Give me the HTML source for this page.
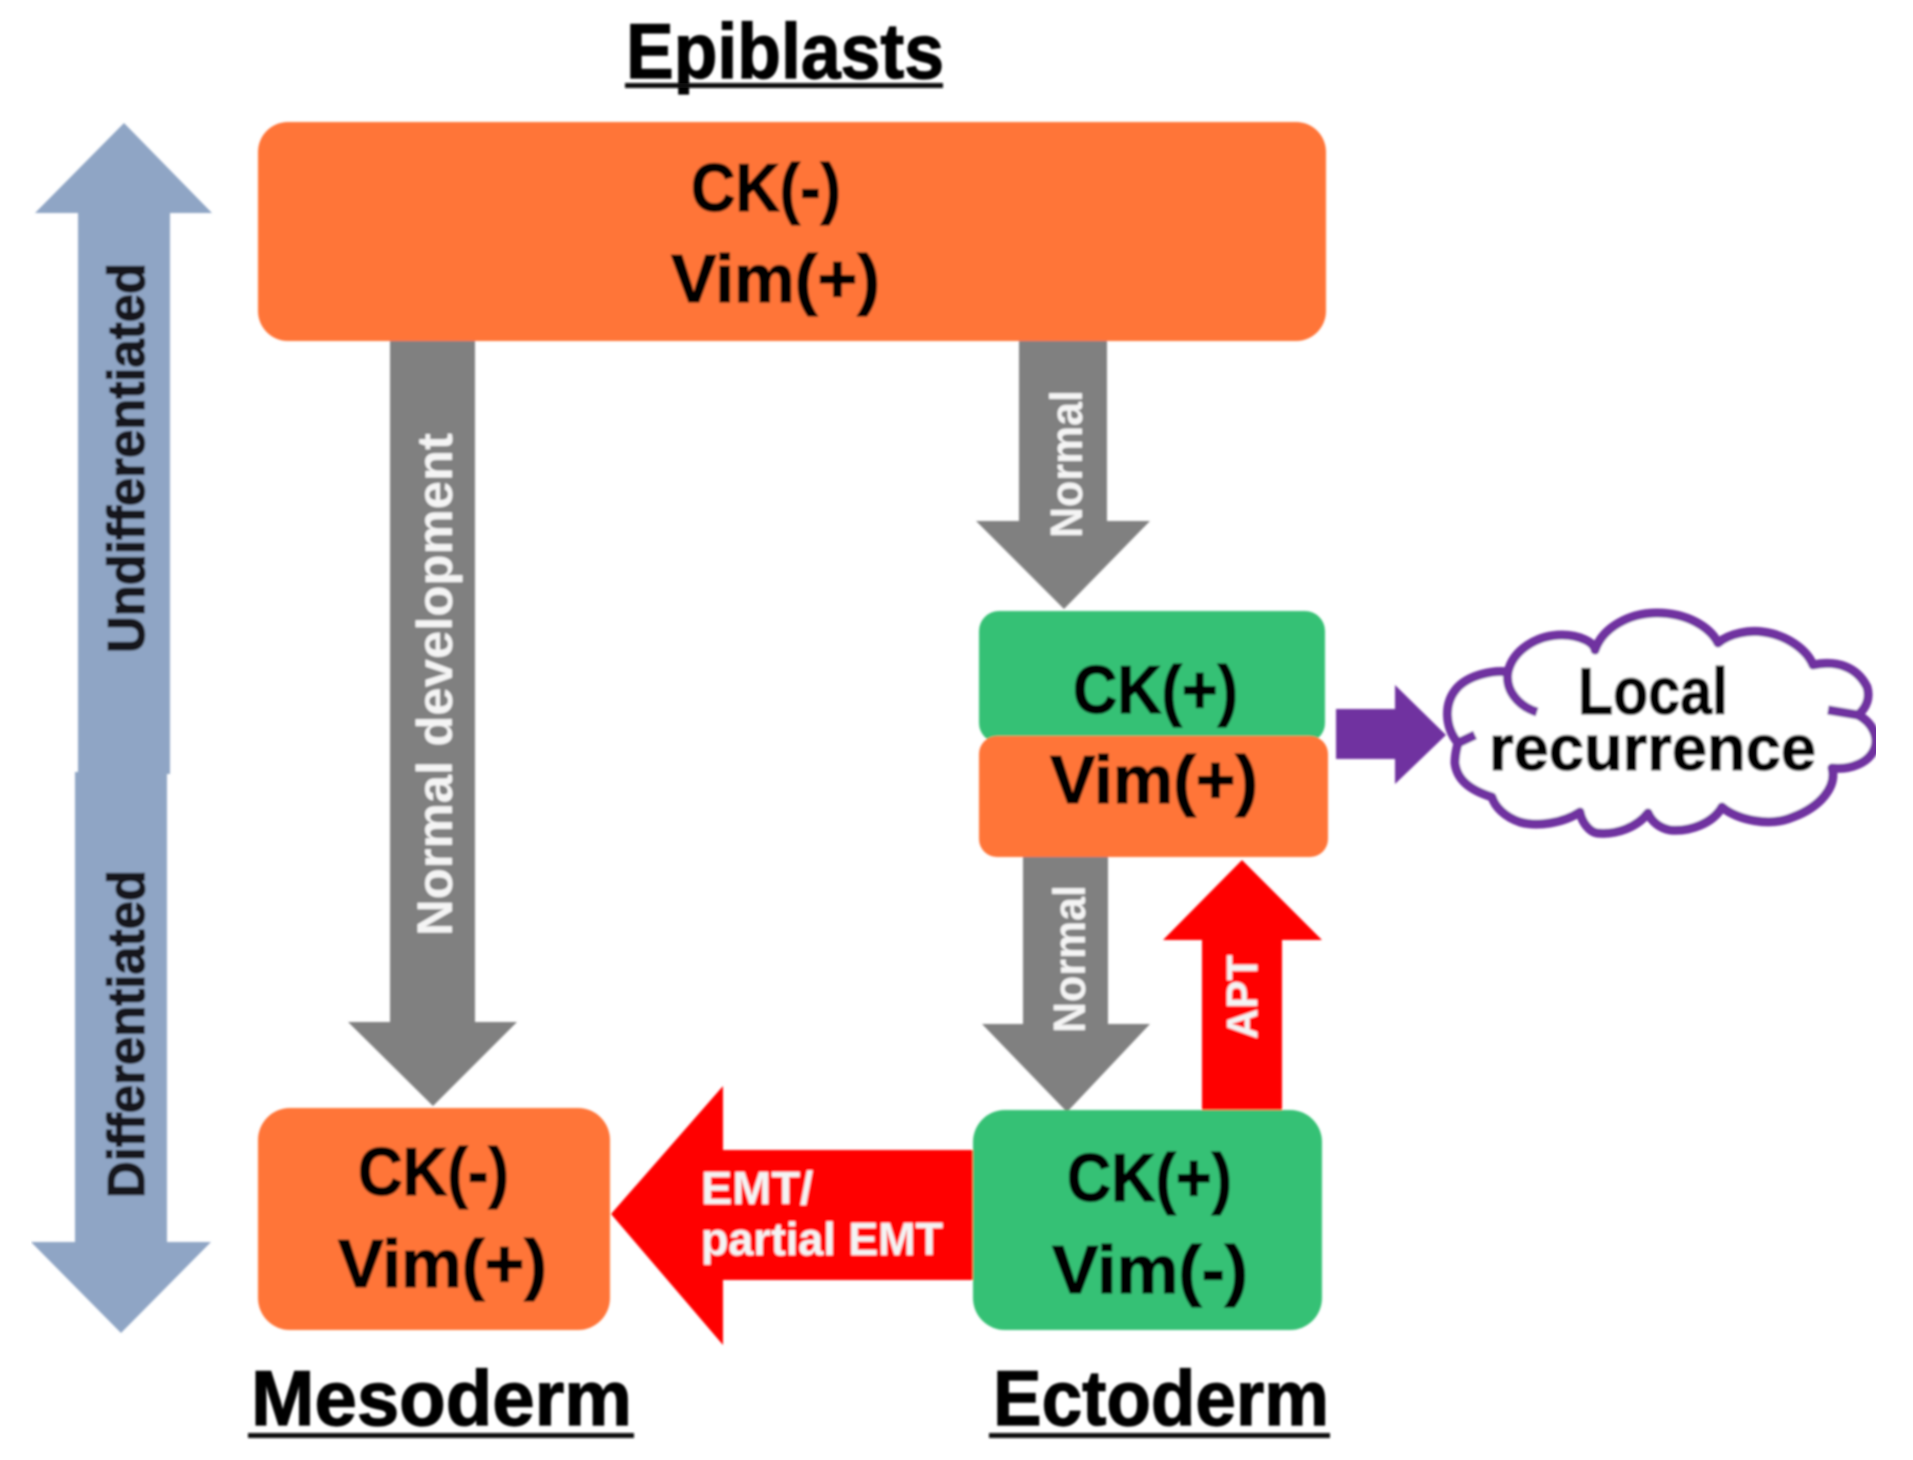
<!DOCTYPE html>
<html><head><meta charset="utf-8"><title>Epiblasts diagram</title>
<style>html,body{margin:0;padding:0;background:#fff}svg{display:block}
text{font-family:"Liberation Sans",sans-serif;font-weight:700}
.k{fill:#000;stroke:#000;stroke-width:1.2}.w{fill:#f4f4f4}</style></head><body>
<svg width="1913" height="1460" viewBox="0 0 1913 1460" xmlns="http://www.w3.org/2000/svg">
<defs><filter id="b" x="0" y="0" width="100%" height="100%"><feGaussianBlur stdDeviation="1.1"/></filter></defs>
<rect width="1913" height="1460" fill="#fff"/>
<g filter="url(#b)">
<!-- blue double arrow -->
<polygon points="124,123 212,213 170,213 170,774 78,774 78,213 35,213" fill="#8fa5c5"/>
<polygon points="75,772 167,772 167,1242 211,1242 121,1333 31,1242 75,1242" fill="#8fa5c5"/>
<!-- gray arrows -->
<polygon points="390,335 475,335 475,1022 517,1022 433,1106 348,1022 390,1022" fill="#808080"/>
<polygon points="1019,335 1107,335 1107,521 1150,521 1064,609 976,521 1019,521" fill="#808080"/>
<polygon points="1023,850 1108,850 1108,1024 1150,1024 1067,1112 982,1024 1023,1024" fill="#808080"/>
<!-- red arrows -->
<polygon points="1242,860 1322,940 1282,940 1282,1120 1202,1120 1202,940 1163,940" fill="#ff0000"/>
<polygon points="611,1214 723,1086 723,1150 985,1150 985,1280 723,1280 723,1345" fill="#ff0000"/>
<!-- boxes -->
<rect x="258" y="122" width="1068" height="219" rx="30" fill="#ff7538"/>
<rect x="979" y="611" width="346" height="132" rx="20" fill="#36c174"/>
<rect x="979" y="736" width="349" height="121" rx="18" fill="#ff7538"/>
<rect x="973" y="1110" width="349" height="220" rx="32" fill="#36c174"/>
<rect x="258" y="1108" width="352" height="222" rx="32" fill="#ff7538"/>
<!-- purple arrow -->
<polygon points="1336,709 1395,709 1395,685 1446,735 1395,784 1395,759 1336,759" fill="#7030a0"/>
<!-- cloud -->
<path d="M1458,743 C1445,727 1443,703 1458,687 C1470,675 1493,670 1508,672 C1513,650 1537,635 1562,635 C1580,635 1595,643 1595,650 C1603,627 1630,613 1657,613 C1687,613 1710,627 1718,643 C1730,633 1750,630 1763,632 C1787,635 1807,650 1813,665 C1837,660 1857,667 1867,687 C1870,697 1867,707 1858,715 C1873,723 1878,737 1875,747 C1870,763 1850,770 1832,768 C1837,787 1820,807 1793,817 C1770,827 1737,820 1722,807 C1713,823 1690,832 1670,830 C1660,828 1652,822 1648,813 C1637,827 1617,835 1597,833 C1590,832 1582,823 1580,812 C1563,823 1537,827 1520,822 C1505,817 1495,807 1492,797 C1470,790 1457,780 1455,763 C1455,753 1457,748 1458,743 Z" fill="#fff" stroke="#7030a0" stroke-width="9" stroke-linejoin="round"/>
<path d="M1508,672 C1505,690 1518,706 1537,712 M1475,735 L1458,743 M1828,710 L1858,715" fill="none" stroke="#7030a0" stroke-width="9"/>
<!-- headings -->
<text class="k" x="626" y="78" font-size="78" textLength="318" lengthAdjust="spacingAndGlyphs">Epiblasts</text>
<rect x="625" y="83" width="318" height="5" fill="#111"/>
<text class="k" x="251" y="1425" font-size="78" textLength="381" lengthAdjust="spacingAndGlyphs">Mesoderm</text>
<rect x="248" y="1433" width="386" height="5" fill="#111"/>
<text class="k" x="993" y="1425" font-size="78" textLength="336" lengthAdjust="spacingAndGlyphs">Ectoderm</text>
<rect x="989" y="1433" width="341" height="5" fill="#111"/>
<!-- markers -->
<text class="k" x="691" y="211" font-size="68" textLength="150" lengthAdjust="spacingAndGlyphs">CK(-)</text>
<text class="k" x="671" y="302" font-size="68" textLength="209" lengthAdjust="spacingAndGlyphs">Vim(+)</text>
<text class="k" x="1073" y="713" font-size="68" textLength="165" lengthAdjust="spacingAndGlyphs">CK(+)</text>
<text class="k" x="1050" y="803" font-size="68" textLength="208" lengthAdjust="spacingAndGlyphs">Vim(+)</text>
<text class="k" x="1067" y="1201" font-size="68" textLength="165" lengthAdjust="spacingAndGlyphs">CK(+)</text>
<text class="k" x="1052" y="1293" font-size="68" textLength="196" lengthAdjust="spacingAndGlyphs">Vim(-)</text>
<text class="k" x="358" y="1195" font-size="68" textLength="151" lengthAdjust="spacingAndGlyphs">CK(-)</text>
<text class="k" x="338" y="1287" font-size="68" textLength="209" lengthAdjust="spacingAndGlyphs">Vim(+)</text>
<text class="k" x="1578" y="714" font-size="66" textLength="150" lengthAdjust="spacingAndGlyphs">Local</text>
<text class="k" x="1489" y="770" font-size="64" textLength="327" lengthAdjust="spacingAndGlyphs">recurrence</text>
<text class="w" x="701" y="1204" font-size="46" textLength="112" lengthAdjust="spacingAndGlyphs">EMT/</text>
<text class="w" x="701" y="1255" font-size="46" textLength="242" lengthAdjust="spacingAndGlyphs">partial EMT</text>
<!-- rotated labels -->
<text fill="#14141c" stroke="#14141c" stroke-width="1.4" transform="translate(144,653) rotate(-90)" font-size="52" textLength="390" lengthAdjust="spacingAndGlyphs">Undifferentiated</text>
<text fill="#14141c" stroke="#14141c" stroke-width="1.4" transform="translate(144,1198) rotate(-90)" font-size="52" textLength="328" lengthAdjust="spacingAndGlyphs">Differentiated</text>
<text class="w" transform="translate(452,936) rotate(-90)" font-size="50" textLength="503" lengthAdjust="spacingAndGlyphs">Normal development</text>
<text class="w" transform="translate(1082,538) rotate(-90)" font-size="45" textLength="148" lengthAdjust="spacingAndGlyphs">Normal</text>
<text class="w" transform="translate(1085,1033) rotate(-90)" font-size="45" textLength="148" lengthAdjust="spacingAndGlyphs">Normal</text>
<text class="w" transform="translate(1257,1039) rotate(-90)" font-size="44" textLength="84" lengthAdjust="spacingAndGlyphs">APT</text>
</g>
</svg>
</body></html>
